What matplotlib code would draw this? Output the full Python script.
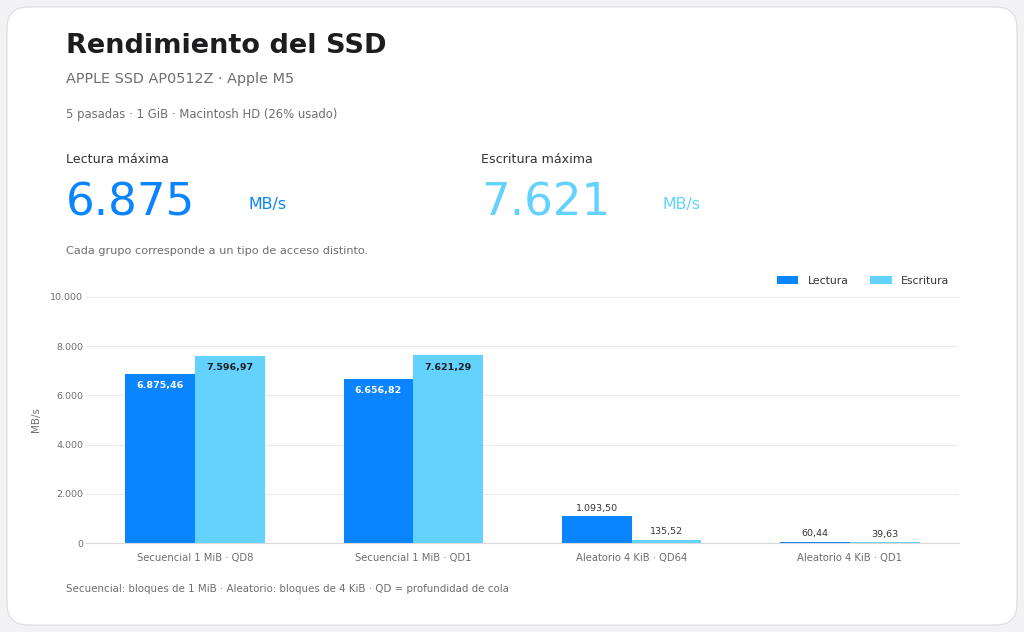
import numpy as np
import matplotlib
matplotlib.use("Agg")
import matplotlib.pyplot as plt
from matplotlib.patches import FancyBboxPatch

# data
grupos = ["Secuencial 1 MiB · QD8", "Secuencial 1 MiB · QD1",
          "Aleatorio 4 KiB · QD64", "Aleatorio 4 KiB · QD1"]
lectura = [6875.46, 6656.82, 1093.50, 60.44]
escritura = [7596.97, 7621.29, 135.52, 39.63]
yticks = [0, 2000, 4000, 6000, 8000, 10000]

AZUL = "#0a84ff"
CELESTE = "#64d2ff"
GRIS = "#6e6e73"
OSCURO = "#1d1d1f"


def fmt(v, dec=2):
    s = f"{v:,.{dec}f}"
    return s.replace(",", "X").replace(".", ",").replace("X", ".")


plt.rcParams["font.family"] = ["DejaVu Sans"]

fig = plt.figure(figsize=(10.24, 6.32), dpi=100)
fig.patch.set_facecolor("#f2f2f5")

card = FancyBboxPatch((7 / 1024, 7 / 632), 1010 / 1024, 618 / 632,
                      boxstyle="round,pad=0,rounding_size=0.021",
                      transform=fig.transFigure, facecolor="white",
                      edgecolor="#dcdce0", linewidth=0.8, zorder=-10,
                      mutation_aspect=1024 / 632)
fig.patches.append(card)

x0 = 66 / 1024
fig.text(x0, 1 - 53 / 632, "Rendimiento del SSD", fontsize=19.5, fontweight="bold",
         color=OSCURO, va="baseline")
fig.text(x0, 1 - 83 / 632, "APPLE SSD AP0512Z · Apple M5", fontsize=10.4,
         color=GRIS, va="baseline")
fig.text(x0, 1 - 118 / 632, "5 pasadas · 1 GiB · Macintosh HD (26% usado)",
         fontsize=8.4, color=GRIS, va="baseline")

fig.text(x0, 1 - 163 / 632, "Lectura máxima", fontsize=9.1, color="#333333", va="baseline")
fig.text(x0, 1 - 215 / 632, fmt(max(lectura), 0), fontsize=32.5, color=AZUL, va="baseline")
fig.text(248 / 1024, 1 - 209 / 632, "MB/s", fontsize=11.4, color=AZUL, va="baseline")

x1 = 481 / 1024
fig.text(x1, 1 - 163 / 632, "Escritura máxima", fontsize=9.1, color="#333333", va="baseline")
fig.text(x1, 1 - 215 / 632, fmt(max(escritura), 0), fontsize=32.5, color=CELESTE, va="baseline")
fig.text(663 / 1024, 1 - 209 / 632, "MB/s", fontsize=11.4, color=CELESTE, va="baseline")

fig.text(x0, 1 - 254 / 632, "Cada grupo corresponde a un tipo de acceso distinto.",
         fontsize=8.1, color=GRIS, va="baseline")
fig.text(x0, 1 - 592 / 632,
         "Secuencial: bloques de 1 MiB · Aleatorio: bloques de 4 KiB · QD = profundidad de cola",
         fontsize=7.4, color=GRIS, va="baseline")

ax = fig.add_axes([86 / 1024, 1 - 543.3 / 632, 873 / 1024, 246.6 / 632])
ax.set_facecolor("none")

x = np.arange(len(grupos))
w = 0.32
b1 = ax.bar(x - w / 2, lectura, w, color=AZUL, label="Lectura", zorder=2)
b2 = ax.bar(x + w / 2, escritura, w, color=CELESTE, label="Escritura", zorder=2)

for bars, vals, col in [(b1, lectura, "white"), (b2, escritura, OSCURO)]:
    for r, v in zip(bars, vals):
        cx = r.get_x() + r.get_width() / 2
        if v > 3000:
            ax.text(cx, v - 480, fmt(v), ha="center", va="center", fontsize=6.8,
                    fontweight="bold", color=col, zorder=3)
        else:
            ax.text(cx, v + 150, fmt(v), ha="center", va="bottom", fontsize=6.8,
                    color="#333333", zorder=3)

ax.set_xlim(-0.5, 3.5)
ax.set_ylim(0, 10000)
ax.set_yticks(yticks)
ax.set_yticklabels([fmt(t, 0) for t in yticks])
ax.set_xticks(x)
ax.set_xticklabels(grupos)
ax.tick_params(length=0, labelsize=6.8, labelcolor=GRIS)
ax.tick_params(axis="x", pad=7, labelsize=7.2)
ax.tick_params(axis="y", pad=2)
ax.grid(axis="y", color="#ececec", linewidth=0.8, zorder=0)
for s in ["top", "right", "left"]:
    ax.spines[s].set_visible(False)
ax.spines["bottom"].set_color("#d9d9d9")
ax.set_ylabel("MB/s", fontsize=7.4, color=GRIS)
ax.yaxis.set_label_coords(-0.052, 0.5)

fig.legend(handles=[b1, b2], labels=["Lectura", "Escritura"], ncol=2,
           loc="center right", bbox_to_anchor=(959 / 1024, 1 - 281 / 632),
           frameon=False, fontsize=7.8, handlelength=2.0, handleheight=0.75,
           handletextpad=0.85, columnspacing=2.0, labelcolor="#333333")

fig.savefig("out.png", dpi=100, facecolor=fig.get_facecolor())
